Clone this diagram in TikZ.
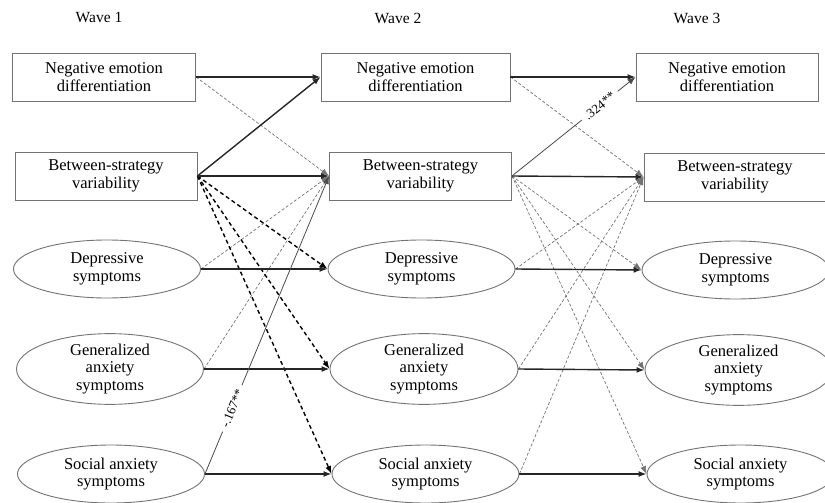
\documentclass[tikz,border=0pt]{standalone}
\usepackage{fontspec}
\setmainfont{Liberation Serif}
\usetikzlibrary{shapes.geometric,arrows.meta}
\begin{document}
\begin{tikzpicture}[x=1pt,y=-1pt,
  every node/.style={font=\fontsize{16.5}{17.5}\selectfont, align=center},
  varbox/.style={draw=black!55, line width=0.9pt, rectangle, minimum width=183pt, minimum height=48pt, inner sep=0pt},
  symell/.style={draw=black!55, line width=0.9pt, ellipse, minimum width=187pt, minimum height=58pt, inner sep=0pt},
  wavelabel/.style={font=\fontsize{15.5}{17}\selectfont},
  coef/.style={font=\fontsize{13}{14}\selectfont, fill=white, inner xsep=5pt, inner ysep=1pt, sloped},
  tip/.style={-{Latex[length=8pt,width=6pt]}},
  sig/.style={tip, draw=black!85, line width=1.4pt},
  sigthin/.style={tip, draw=black!70, line width=0.8pt},
  nsthick/.style={tip, draw=black, line width=1.4pt, dash pattern=on 4pt off 3pt},
  nsthin/.style={tip, draw=black!55, line width=0.7pt, dash pattern=on 3pt off 2pt}
]
\useasboundingbox (0,0) rectangle (825,503);

% wave headings
\node[wavelabel] (w1) at (99,18) {Wave 1};
\node[wavelabel] (w2) at (398,18) {Wave 2};
\node[wavelabel] (w3) at (697,18) {Wave 3};

% wave 1
\node[varbox] (n1) at (104,77) {Negative emotion\\differentiation};
\node[varbox, minimum width=182pt] (b1) at (106,176) {Between-strategy\\variability};
\node[symell] (d1) at (107,269) {Depressive\\symptoms};
\node[symell] (g1) at (110,369) {Generalized\\anxiety\\symptoms};
\node[symell] (s1) at (111,474) {Social anxiety\\symptoms};

% wave 2
\node[varbox, minimum width=189pt] (n2) at (415.5,77) {Negative emotion\\differentiation};
\node[varbox, minimum width=182pt] (b2) at (420.5,176) {Between-strategy\\variability};
\node[symell] (d2) at (421.5,269) {Depressive\\symptoms};
\node[symell, minimum width=188pt] (g2) at (424,369) {Generalized\\anxiety\\symptoms};
\node[symell] (s2) at (425.5,474) {Social anxiety\\symptoms};

% wave 3
\node[varbox, minimum width=182pt] (n3) at (727,77) {Negative emotion\\differentiation};
\node[varbox, minimum width=182pt] (b3) at (735,177) {Between-strategy\\variability};
\node[symell] (d3) at (735.5,270) {Depressive\\symptoms};
\node[symell] (g3) at (738.5,370) {Generalized\\anxiety\\symptoms};
\node[symell] (s3) at (740.5,474) {Social anxiety\\symptoms};

% wave 1 -> wave 2: non-significant paths
\draw[nsthin] (n1.east) -- (b2.west);
\draw[nsthin] (d1.east) -- (b2.west);
\draw[nsthin] (g1.east) -- (b2.west);
\draw[nsthick] (b1.east) -- (d2.west);
\draw[nsthick] (b1.east) -- (g2.west);
\draw[nsthick] (b1.east) -- (s2.west);

% wave 1 -> wave 2: significant paths
\draw[sig] (n1.east) -- (n2.west);
\draw[sig] (b1.east) -- (n2.west);
\draw[sig] (b1.east) -- (b2.west);
\draw[sig] (d1.east) -- (d2.west);
\draw[sig] (g1.east) -- (g2.west);
\draw[sig] (s1.east) -- (s2.west);
\draw[sigthin] (s1.east) -- node[coef, pos=0.22] {-.167**} (b2.west);

% wave 2 -> wave 3: non-significant paths
\draw[nsthin] (n2.east) -- (b3.west);
\draw[nsthin] (d2.east) -- (b3.west);
\draw[nsthin] (g2.east) -- (b3.west);
\draw[nsthin] (s2.east) -- (b3.west);
\draw[nsthin] (b2.east) -- (d3.west);
\draw[nsthin] (b2.east) -- (g3.west);
\draw[nsthin] (b2.east) -- (s3.west);

% wave 2 -> wave 3: significant paths
\draw[sig] (n2.east) -- (n3.west);
\draw[sig] (b2.east) -- (b3.west);
\draw[sig] (d2.east) -- (d3.west);
\draw[sig] (g2.east) -- (g3.west);
\draw[sig] (s2.east) -- (s3.west);
\draw[sigthin] (b2.east) -- node[coef, pos=0.71] {.324**} (n3.west);
\end{tikzpicture}
\end{document}
